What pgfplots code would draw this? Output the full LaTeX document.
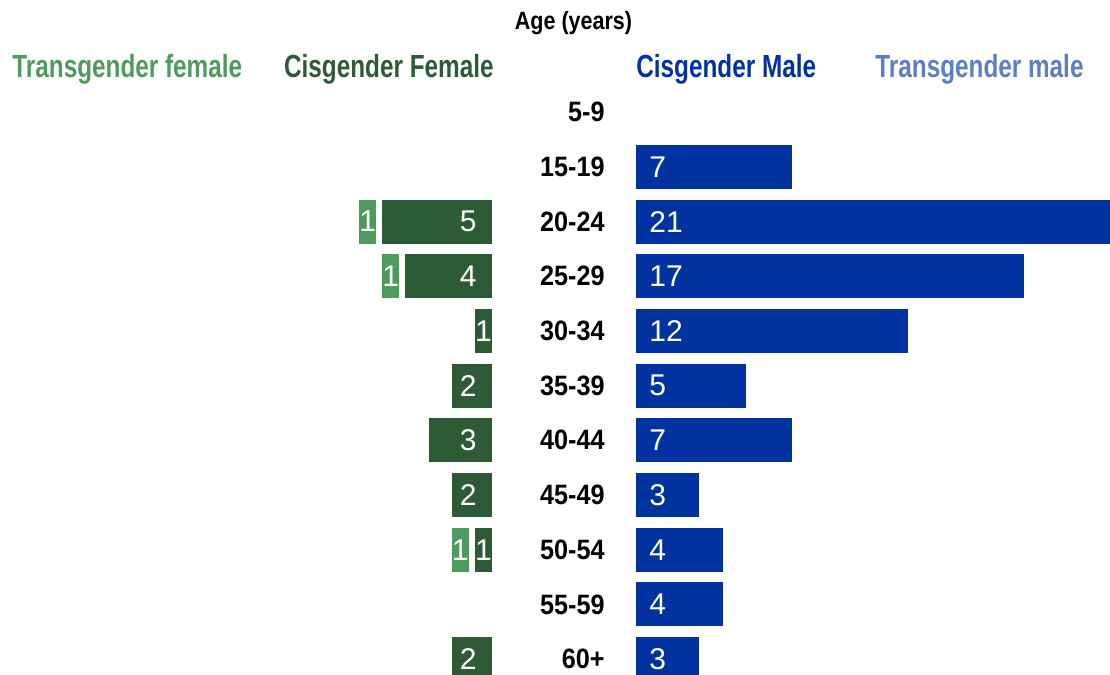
\documentclass[border=0pt]{standalone}
\usepackage{fontspec}
\setmainfont{Liberation Sans}
\newfontfamily\headfont{Liberation Sans}[FakeStretch=0.76]
\newfontfamily\agefont{Liberation Sans}[FakeStretch=0.86]
\newfontfamily\catfont{Liberation Sans}[FakeStretch=0.9]
\usepackage{pgfplots}
\pgfplotsset{compat=1.18}
\definecolor{cisM}{HTML}{0033A0}
\definecolor{transM}{HTML}{5B7FC7}
\definecolor{cisF}{HTML}{2D5B35}
\definecolor{transF}{HTML}{4E9B5D}
\pgfplotsset{
  pyr/.style={scale only axis, height=295.1pt, y dir=reverse, ymin=-0.5, ymax=10.29,
    axis line style={draw=none}, tick style={draw=none}, xtick=\empty, ytick=\empty,
    clip=true, bar width=25pt},
  lab/.style={only marks, mark=*, mark size=0pt, mark options={draw=none,fill=none},
    nodes near coords, point meta=explicit symbolic,
    nodes near coords style={inner sep=0pt, text=white, font=\fontsize{15}{15}\selectfont}},
}
\begin{document}
\begin{tikzpicture}
% ---------- right side: males ----------
\begin{axis}[pyr, width=238.5pt, xmin=0, xmax=20.605, at={(316.5pt,0pt)}, anchor=south west,
  ytick={0,...,10},
  yticklabels={5-9,15-19,20-24,25-29,30-34,35-39,40-44,45-49,50-54,55-59,60+},
  yticklabel style={anchor=east, inner sep=0pt, xshift=-14pt, font=\catfont\bfseries\fontsize{14}{14}\selectfont}]
\addplot[xbar, fill=cisM, draw=white, line width=3pt] coordinates
  {(7,1) (21,2) (17,3) (12,4) (5,5) (7,6) (3,7) (4,8) (4,9) (3,10)};
\addplot[lab, nodes near coords style={anchor=west, xshift=8pt}] coordinates
  {(0,1)[7] (0,2)[21] (0,3)[17] (0,4)[12] (0,5)[5] (0,6)[7] (0,7)[3] (0,8)[4] (0,9)[4] (0,10)[3]};
\end{axis}
% ---------- left side: females ----------
\begin{axis}[pyr, xbar stacked, x dir=reverse, width=247.5pt, xmin=0, xmax=21.382,
  at={(247.5pt,0pt)}, anchor=south east]
\addplot[fill=cisF, draw=white, line width=3pt] coordinates
  {(0,0) (0,1) (5,2) (4,3) (1,4) (2,5) (3,6) (2,7) (1,8) (0,9) (2,10)};
\addplot[fill=transF, draw=white, line width=3pt] coordinates
  {(0,0) (0,1) (1,2) (1,3) (0,4) (0,5) (0,6) (0,7) (1,8) (0,9) (0,10)};
\end{axis}
\begin{axis}[pyr, x dir=reverse, width=247.5pt, xmin=0, xmax=21.382,
  at={(247.5pt,0pt)}, anchor=south east]
\addplot[lab, nodes near coords style={anchor=east, xshift=-9pt}] coordinates
  {(0,2)[5] (0,3)[4] (0,5)[2] (0,6)[3] (0,7)[2] (0,10)[2]};
\addplot[lab, nodes near coords style={anchor=center}] coordinates
  {(0.5,4)[1] (0.5,8)[1] (5.5,2)[1] (4.5,3)[1] (1.5,8)[1]};
\end{axis}
% ---------- headers ----------
\node[anchor=base, inner sep=0pt, font=\agefont\bfseries\fontsize{12.5}{12.5}\selectfont] at (286.75pt,322.5pt) {Age (years)};
\node[anchor=base west, inner sep=0pt, text=transF, font=\headfont\bfseries\fontsize{16}{16}\selectfont] at (6pt,298.5pt) {Transgender female};
\node[anchor=base east, inner sep=0pt, text=cisF, font=\headfont\bfseries\fontsize{16}{16}\selectfont] at (247pt,298.5pt) {Cisgender Female};
\node[anchor=base west, inner sep=0pt, text=cisM, font=\headfont\bfseries\fontsize{16}{16}\selectfont] at (318pt,298.5pt) {Cisgender Male};
\node[anchor=base west, inner sep=0pt, text=transM, font=\headfont\bfseries\fontsize{16}{16}\selectfont] at (437.5pt,298.5pt) {Transgender male};
\pgfresetboundingbox
\path (0pt,0pt) rectangle (555pt,337.5pt);
\end{tikzpicture}
\end{document}
